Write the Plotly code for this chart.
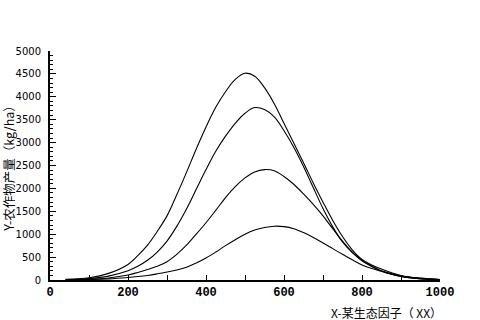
import plotly.graph_objects as go

x_vals = [40, 100, 150, 200, 225, 250, 275, 300, 325, 350, 375, 400, 425, 450, 475, 500,
          525, 550, 575, 600, 625, 650, 675, 700, 725, 750, 775, 800, 825, 850, 900, 950, 1000]

yield_1 = [15, 50, 145, 340, 530, 760, 1060, 1400, 1860, 2350, 2860, 3340, 3770, 4110, 4380, 4515,
           4450, 4200, 3850, 3420, 2990, 2560, 2120, 1700, 1300, 950, 660, 450, 330, 240, 100, 40, 10]
yield_2 = [5, 30, 85, 200, 300, 430, 610, 850, 1170, 1550, 1980, 2410, 2810, 3140, 3420, 3640,
           3765, 3720, 3560, 3260, 2900, 2480, 2020, 1560, 1160, 830, 600, 430, 305, 200, 90, 35, 8]
yield_3 = [3, 15, 45, 110, 165, 230, 300, 400, 560, 760, 1000, 1250, 1520, 1800, 2040, 2230,
           2360, 2410, 2385, 2260, 2090, 1880, 1650, 1400, 1120, 850, 610, 420, 295, 190, 80, 30, 8]
yield_4 = [3, 10, 25, 55, 75, 100, 135, 175, 220, 280, 370, 480, 610, 750, 880, 1000,
           1090, 1145, 1175, 1165, 1120, 1035, 930, 810, 685, 560, 440, 330, 250, 190, 75, 25, 8]

series = [yield_1, yield_2, yield_3, yield_4]

x_ticks = [0, 200, 400, 600, 800, 1000]
y_ticks = [0, 500, 1000, 1500, 2000, 2500, 3000, 3500, 4000, 4500, 5000]

x_title = "X-某生态因子（ XX）"
y_title = "Y-农作物产量（kg/ha）"

fig = go.Figure()
for ys in series:
    fig.add_trace(go.Scatter(
        x=x_vals, y=ys, mode="lines",
        line=dict(color="black", width=1.1, shape="spline", smoothing=1.0),
        showlegend=False, hoverinfo="skip",
    ))

fig.update_layout(
    width=480, height=320,
    margin=dict(l=50, r=40, t=51, b=40, pad=0),
    paper_bgcolor="white", plot_bgcolor="white",
    font=dict(family="Noto Sans CJK SC, DejaVu Sans", size=11, color="black"),
)

fig.update_xaxes(
    range=[0, 1000], tickvals=x_ticks, ticktext=[str(v) for v in x_ticks],
    showgrid=False, zeroline=False,
    showline=True, linecolor="black", linewidth=2,
    ticks="inside", ticklen=5, tickwidth=1, tickcolor="black",
    minor=dict(dtick=100, ticks="inside", ticklen=5, tickwidth=1, tickcolor="black", showgrid=False),
    tickfont=dict(family="Liberation Mono", size=12, weight="bold", color="black"),
)

fig.update_yaxes(
    range=[0, 5000], tickvals=y_ticks, ticktext=[str(v) for v in y_ticks],
    showgrid=False, zeroline=False,
    showline=True, linecolor="black", linewidth=2,
    ticks="inside", ticklen=6, tickwidth=1, tickcolor="black",
    minor=dict(dtick=100, ticks="inside", ticklen=3, tickwidth=1, tickcolor="black", showgrid=False),
    tickfont=dict(family="DejaVu Sans", size=10, color="black"),
    ticklabelstandoff=5,
)

fig.add_annotation(
    text=x_title, xref="paper", yref="paper", x=1.01, y=-0.14,
    xanchor="right", yanchor="middle", showarrow=False,
    font=dict(family="Noto Sans CJK SC", size=12, color="black"),
)
fig.add_annotation(
    text=y_title, xref="paper", yref="paper", x=-0.107, y=0.5,
    xanchor="center", yanchor="middle", textangle=-90, showarrow=False,
    font=dict(family="Noto Sans CJK SC", size=12.5, color="black"),
)

fig.write_html("out.html")
